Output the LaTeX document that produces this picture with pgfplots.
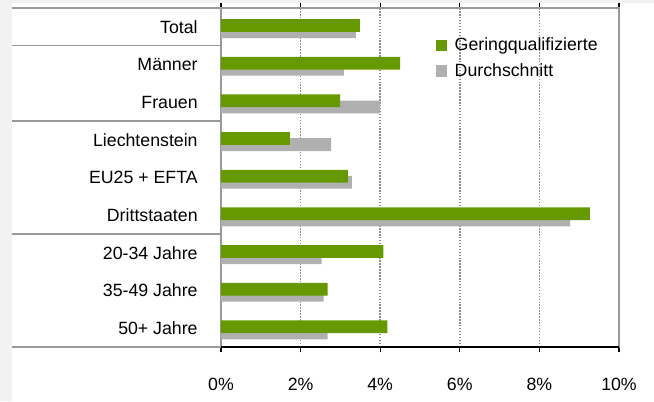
\documentclass[border=0pt]{standalone}
\usepackage{pgfplots}
\pgfplotsset{compat=1.18}
\usepackage{fontspec}
\setmainfont{Liberation Sans}
\definecolor{barGreen}{HTML}{669900}
\definecolor{barGray}{HTML}{B0B0B0}
\definecolor{frameGray}{HTML}{999999}
\definecolor{gridGray}{HTML}{8C8C8C}
\definecolor{bgGray}{HTML}{F2F2F2}
\newcommand{\lblfont}{\fontsize{13.3}{15}\selectfont}
\begin{document}
\begin{tikzpicture}
% page background (654 x 401 px, 1 px = 0.75pt)
\fill[white] (0,0) rectangle (490.5pt,300.75pt);
\fill[bgGray] (0,0) rectangle (9pt,300.75pt);
\fill[bgGray] (0,298.5pt) rectangle (490.5pt,300.75pt);
\useasboundingbox (0,0) rectangle (490.5pt,300.75pt);
\begin{axis}[
  at={(165.75pt,40.5pt)}, anchor=south west,
  scale only axis, width=298.5pt, height=254.25pt,
  xbar, bar width=9.6pt,
  xmin=0, xmax=10, ymin=-0.5, ymax=8.5,
  xtick={0,2,4,6,8,10},
  xticklabels={0\%,2\%,4\%,6\%,8\%,10\%},
  ytick={0,...,8},
  yticklabels={50+ Jahre,35-49 Jahre,20-34 Jahre,Drittstaaten,EU25 + EFTA,Liechtenstein,Frauen,Männer,Total},
  ticklabel style={font=\lblfont},
  yticklabel style={xshift=-10pt},
  xticklabel style={yshift=-15.5pt},
  y tick style={draw=none},
  x tick style={black, line width=1pt},
  xtick align=outside, major tick length=4pt,
  xmajorgrids, grid style={gridGray, line width=1.2pt, dash pattern=on 1.1pt off 1.1pt},
  axis line style={frameGray, line width=1.1pt},
  clip=false,
  legend style={at={(0.54,0.92)}, anchor=north west, draw=none, fill=none,
    font=\lblfont, row sep=4pt, inner sep=0pt,
    /tikz/every odd column/.append style={column sep=3.5pt}},
  legend cell align=left,
  legend image code/.code={\fill[#1] (0pt,-4.2pt) rectangle (8.4pt,4.2pt);},
  reverse legend,
]
\addplot[fill=barGray, draw=none, bar shift=-3.6pt] coordinates {
  (2.68,0) (2.58,1) (2.53,2) (8.77,3) (3.29,4) (2.77,5) (4.00,6) (3.09,7) (3.39,8)};
\addplot[fill=barGreen, draw=none, bar shift=1.0pt] coordinates {
  (4.18,0) (2.68,1) (4.08,2) (9.27,3) (3.19,4) (1.73,5) (2.99,6) (4.50,7) (3.49,8)};
\legend{Durchschnitt,Geringqualifizierte}
% left-hand group separators
\pgfplotsinvokeforeach{8.5,7.5,5.5,2.5,-0.5}{
  \draw[frameGray, line width=1.1pt] ([xshift=-156.75pt]axis cs:0,#1) -- (axis cs:0,#1);
}
\end{axis}
% bottom axis line in black, over the grey frame
\draw[black, line width=1.5pt] (165.75pt,40.5pt) -- (464.25pt,40.5pt);
\end{tikzpicture}
\end{document}
